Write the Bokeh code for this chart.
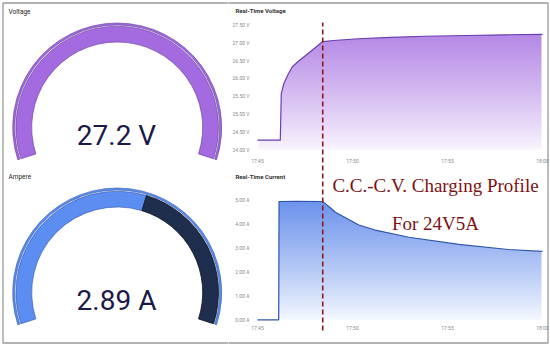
import numpy as np
from bokeh.plotting import figure
from bokeh.models import (Range1d, LinearAxis, FixedTicker, PrintfTickFormatter,
                          DatetimeTickFormatter, Label)
from bokeh.layouts import row
from bokeh.embed import file_html
from bokeh.resources import INLINE
from bokeh.core.properties import value

# ---------------- data ----------------
volt_time = ["17:45:00", "17:46:12", "17:46:15", "17:46:23", "17:46:36", "17:46:49",
             "17:47:09", "17:47:32", "17:48:04", "17:48:26", "17:49:00", "17:50:18",
             "17:52:00", "17:53:48", "17:56:00", "17:58:00", "18:00:00"]
volt_vals = [24.27, 24.27, 25.57, 25.85, 26.10, 26.31, 26.48, 26.64, 26.87, 27.03,
             27.06, 27.11, 27.15, 27.18, 27.20, 27.22, 27.23]

amp_time = ["17:45:00", "17:46:07", "17:46:08", "17:47:00", "17:48:26", "17:48:35",
            "17:48:50", "17:49:06", "17:50:20", "17:51:12", "17:52:58", "17:55:36",
            "17:58:12", "18:00:00"]
amp_vals = [0.0, 0.0, 4.93, 4.94, 4.93, 4.83, 4.67, 4.48, 3.95, 3.74, 3.44, 3.14,
            2.93, 2.85]

cv_time = "17:48:26"
time_start, time_end = "17:45:00", "18:00:00"
x_tick_labels = ["17:45:00", "17:50:00", "17:55:00", "18:00:00"]
volt_ticks = [24.0, 24.5, 25.0, 25.5, 26.0, 26.5, 27.0, 27.5]
amp_ticks = [0.0, 1.0, 2.0, 3.0, 4.0, 5.0]

gauge_titles = ["Voltage", "Ampere"]
gauge_values = [27.2, 2.89]
gauge_units = ["V", "A"]
gauge_max = [27.0, 5.0]

chart_titles = ["Real-Time Voltage", "Real-Time Current"]
note_lines = ["C.C.-C.V. Charging Profile", "For 24V5A"]


def to_ms(s):
    h, m, sec = [int(v) for v in s.split(":")]
    return (h * 3600 + m * 60 + sec) * 1000.0


vt = [to_ms(s) for s in volt_time]
at = [to_ms(s) for s in amp_time]
t0, t1 = to_ms(time_start), to_ms(time_end)

# ---------------- layout geometry (page px) ----------------
W, H = 550, 345
LEFT_W = 228
RIGHT_W = W - LEFT_W
X17_45, X18_00 = 257, 542   # page x of the time-axis ends
BORDER = dict(fill_color=None, line_color="#9a9a9a", line_width=1.3)

# ---------------- left: gauges ----------------
pl = figure(width=LEFT_W, height=H, x_range=Range1d(0, LEFT_W), y_range=Range1d(0, H),
            x_axis_type=None, y_axis_type=None, toolbar_location=None,
            output_backend="svg", min_border=0, title=None)
pl.outline_line_color = None
pl.background_fill_color = "white"
pl.quad(left=[2.5], right=[LEFT_W + 20], bottom=[H - 342.5], top=[H - 2.5], **BORDER)

A_START, A_END = 198.0, -18.0
R_OUT, R_RING_IN, R_BAND_OUT, R_IN = 104.5, 102.5, 101.3, 85.5
g_cx = 116.7
g_cy = [H - 127.0, H - 292.0]
band_col = ["#a46be0", "#5b8ef0"]
band_line = ["#5f3597", "#2f55a6"]
rest_col = "#1f2e4c"

for i in range(2):
    frac = min(gauge_values[i] / gauge_max[i], 1.0)
    a_val = A_START - frac * (A_START - A_END)
    pl.annular_wedge(x=g_cx, y=g_cy[i], inner_radius=R_RING_IN, outer_radius=R_OUT,
                     start_angle=np.radians(A_END), end_angle=np.radians(A_START),
                     direction="anticlock", fill_color=band_col[i],
                     line_color=band_line[i], line_width=0.6)
    pl.annular_wedge(x=g_cx, y=g_cy[i], inner_radius=R_IN, outer_radius=R_BAND_OUT,
                     start_angle=np.radians(a_val), end_angle=np.radians(A_START),
                     direction="anticlock", fill_color=band_col[i],
                     line_color=band_line[i], line_width=0.6)
    if frac < 1.0:
        pl.annular_wedge(x=g_cx, y=g_cy[i], inner_radius=R_IN, outer_radius=R_BAND_OUT,
                         start_angle=np.radians(A_END), end_angle=np.radians(a_val),
                         direction="anticlock", fill_color=rest_col,
                         line_color="#0b1222", line_width=0.8)
    pl.text(x=[g_cx - 0.7], y=[g_cy[i] - 7.5],
            text=[f"{gauge_values[i]:g} {gauge_units[i]}"],
            text_align="center", text_baseline="middle", text_font=value("Roboto"),
            text_font_size="28px", text_color="#1b1a47")
    pl.add_layout(Label(x=8, y=[H - 11, H - 176][i], text=gauge_titles[i],
                        text_font="Roboto", text_font_size="6.5px", text_color="#222222",
                        text_baseline="middle", text_align="left"))

# ---------------- right: real-time charts ----------------
ms_per_px = (t1 - t0) / (X18_00 - X17_45)


def rx(page_x):
    return t0 + (page_x - X17_45) * ms_per_px


def ry(page_y):
    return H - page_y


pr = figure(width=RIGHT_W, height=H, x_range=Range1d(rx(LEFT_W), rx(W)),
            y_range=Range1d(0, H), x_axis_type=None, y_axis_type=None,
            toolbar_location=None, output_backend="svg", min_border=0, title=None)
pr.outline_line_color = None
pr.background_fill_color = "white"

k_v = (149.3 - 24.3) / 3.5      # px per volt
k_a = (319.3 - 199.3) / 5.0     # px per amp
v_lo = 24.0 - (H - 149.3) / k_v
v_hi = 27.5 + 24.3 / k_v
a_lo = 0.0 - (H - 319.3) / k_a
a_hi = 5.0 + 199.3 / k_a
pr.extra_y_ranges = {"volt": Range1d(v_lo, v_hi), "amp": Range1d(a_lo, a_hi)}


def gradient(top_rgb, bot_rgb, n=200):
    img = np.empty((n, 1), dtype=np.uint32)
    view = img.view(dtype=np.uint8).reshape((n, 1, 4))
    f = np.linspace(0, 1, n) ** 0.9
    for c in range(3):
        view[:, 0, c] = (bot_rgb[c] + (top_rgb[c] - bot_rgb[c]) * f).astype(np.uint8)
    view[:, 0, 3] = 255
    return img


inset = 1.0 * ms_per_px

# voltage area
pr.image_rgba(image=[gradient((176, 128, 228), (250, 246, 255))], x=t0 + inset, y=24.0,
              dw=t1 - t0 - 2 * inset, dh=3.5, y_range_name="volt")
pr.varea(x=vt, y1=volt_vals, y2=[27.6] * len(vt), fill_color="white", y_range_name="volt")
pr.line(x=vt, y=volt_vals, line_color="#6a3fb0", line_width=1.2, y_range_name="volt")

# current area
pr.image_rgba(image=[gradient((108, 146, 236), (246, 249, 255))], x=t0 + inset, y=0.0,
              dw=t1 - t0 - 2 * inset, dh=5.0, y_range_name="amp")
pr.varea(x=at, y1=amp_vals, y2=[5.1] * len(at), fill_color="white", y_range_name="amp")
pr.line(x=at, y=amp_vals, line_color="#2f55aa", line_width=1.2, y_range_name="amp")

# CC -> CV transition
pr.segment(x0=[to_ms(cv_time)], x1=[to_ms(cv_time)], y0=[ry(330)], y1=[ry(22)],
           line_color="#8b1a1a", line_width=1.6, line_dash="5 3")

# outer frame of the picture
pr.quad(left=[rx(LEFT_W - 20)], right=[rx(547.5)], bottom=[ry(342.5)], top=[ry(2.5)],
        **BORDER)


# axes
def style_axis(ax):
    ax.axis_line_color = None
    ax.major_tick_line_color = None
    ax.minor_tick_line_color = None
    ax.major_label_text_font = "Roboto"
    ax.major_label_text_font_size = "5px"
    ax.major_label_text_color = "#888888"


tfmt = DatetimeTickFormatter(seconds="%H:%M", minsec="%H:%M", minutes="%H:%M",
                             hourmin="%H:%M", hours="%H:%M")
xticks = [to_ms(s) for s in x_tick_labels]

vx = LinearAxis(y_range_name="volt", fixed_location=24.0, ticker=FixedTicker(ticks=xticks),
                formatter=tfmt, major_label_standoff=2)
ax_ = LinearAxis(y_range_name="amp", fixed_location=0.0, ticker=FixedTicker(ticks=xticks),
                 formatter=tfmt, major_label_standoff=-1)
vy = LinearAxis(y_range_name="volt", fixed_location=t0, ticker=FixedTicker(ticks=volt_ticks),
                formatter=PrintfTickFormatter(format="%.2f V"), major_label_standoff=2)
ay = LinearAxis(y_range_name="amp", fixed_location=t0, ticker=FixedTicker(ticks=amp_ticks),
                formatter=PrintfTickFormatter(format="%.2f A"), major_label_standoff=2)
for a in (vx, ax_, vy, ay):
    style_axis(a)
pr.add_layout(vx, "below")
pr.add_layout(ax_, "below")
pr.add_layout(vy, "left")
pr.add_layout(ay, "left")

# chart titles
for i, py in enumerate([10, 176]):
    pr.add_layout(Label(x=rx(235), y=ry(py), text=chart_titles[i], text_font="Roboto",
                        text_font_size="6px", text_font_style="bold",
                        text_color="#333333", text_baseline="middle", text_align="left"))

# annotation text
for i, py in enumerate([185, 223]):
    pr.add_layout(Label(x=rx(435), y=ry(py), text=note_lines[i],
                        text_font="Liberation Serif", text_font_size="19px",
                        text_color="#7c1214", text_baseline="middle", text_align="center"))

layout = row(pl, pr)

open("out.html", "w").write(file_html(layout, INLINE))
